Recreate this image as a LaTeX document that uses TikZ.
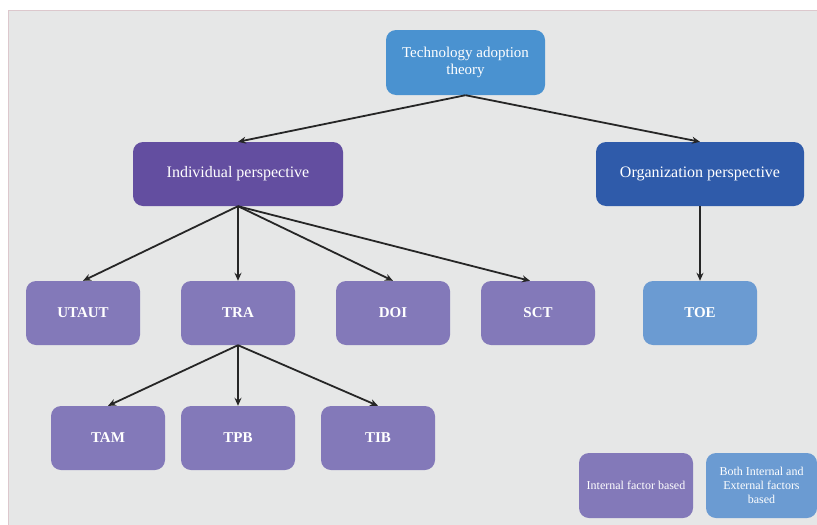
\documentclass[tikz,border=0pt]{standalone}
\usepackage{fontspec}
\setmainfont{Liberation Serif}
\usetikzlibrary{arrows.meta}
\definecolor{bg}{RGB}{230,231,231}
\definecolor{topblue}{RGB}{74,146,208}
\definecolor{indpurple}{RGB}{99,78,160}
\definecolor{orgblue}{RGB}{47,91,170}
\definecolor{leafpurple}{RGB}{131,121,185}
\definecolor{leafblue}{RGB}{107,155,210}
\definecolor{edge}{RGB}{220,200,205}
\tikzset{
  box/.style={rounded corners=10pt, text=white, align=center, inner sep=0pt},
  leaf/.style={box, fill=leafpurple, minimum width=114pt, minimum height=64pt, font=\fontsize{15}{17}\selectfont\bfseries},
  conn/.style={draw=black!85, line width=1.8pt, -{Stealth[length=8pt,width=7pt]}}
}
\begin{document}
\begin{tikzpicture}[x=1pt,y=-1pt]
\useasboundingbox (0,0) rectangle (817,525);
\fill[white] (0,0) rectangle (817,525);
\fill[bg] (8,10) rectangle (817,525);
\draw[edge, line width=0.6pt] (8,525) -- (8,10) -- (817,10);
\node[box, fill=topblue, minimum width=159pt, minimum height=65pt, font=\fontsize{15}{17}\selectfont] (tat) at (465.5,62.5) {Technology adoption\\theory};
\node[box, fill=indpurple, minimum width=210pt, minimum height=64pt, font=\fontsize{16}{18}\selectfont] (ind) at (238,174) {Individual perspective};
\node[box, fill=orgblue, minimum width=208pt, minimum height=64pt, font=\fontsize{16}{18}\selectfont] (org) at (700,174) {Organization perspective};
\node[leaf] (utaut) at (83,313) {UTAUT};
\node[leaf] (tra) at (238,313) {TRA};
\node[leaf] (doi) at (393,313) {DOI};
\node[leaf] (sct) at (538,313) {SCT};
\node[leaf, fill=leafblue] (toe) at (700,313) {TOE};
\node[leaf] (tam) at (108,438) {TAM};
\node[leaf] (tpb) at (238,438) {TPB};
\node[leaf] (tib) at (378,438) {TIB};
\node[box, fill=leafpurple, minimum width=114pt, minimum height=65pt, font=\fontsize{12}{14}\selectfont] (lint) at (636,485.5) {Internal factor based};
\node[box, fill=leafblue, minimum width=111pt, minimum height=65pt, font=\fontsize{12}{14}\selectfont] (lboth) at (761.5,485.5) {Both Internal and\\External factors\\based};
\draw[conn] (tat.south) -- (ind.north);
\draw[conn] (tat.south) -- (org.north);
\draw[conn] (ind.south) -- (utaut.north);
\draw[conn] (ind.south) -- (tra.north);
\draw[conn] (ind.south) -- (doi.north);
\draw[conn] (ind.south) -- ([xshift=-8pt]sct.north);
\draw[conn] (org.south) -- (toe.north);
\draw[conn] (tra.south) -- (tam.north);
\draw[conn] (tra.south) -- (tpb.north);
\draw[conn] (tra.south) -- (tib.north);
\end{tikzpicture}
\end{document}
